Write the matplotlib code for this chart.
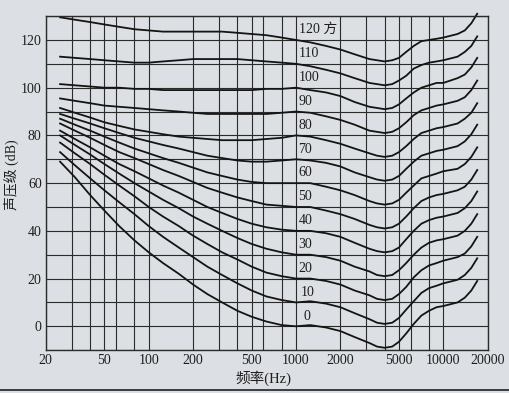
import matplotlib.pyplot as plt
import matplotlib.ticker as mticker
from matplotlib.lines import Line2D

plt.rcParams['font.family'] = ['Liberation Serif', 'Noto Sans CJK SC']

freqs = [25, 31.5, 40, 50, 63, 80, 100, 125, 160, 200, 250, 315, 400, 500, 630, 800,
         1000, 1250, 1600, 2000, 2500, 3150, 3550, 4000, 4500, 5000, 5600, 6300, 7100,
         8000, 9000, 10000, 12500, 14000, 15500, 17000]

# sound pressure level (dB) of each equal-loudness contour
spl_0 = [69, 62.5, 55, 48.5, 42, 36, 31, 26.5, 22, 17.5, 13.5, 10, 6.5, 4, 2, 0.5,
         0, 0.5, -0.5, -2, -4.5, -7, -8.5, -9, -8.5, -6.5, -3, 1, 4.5,
         6.5, 8, 8.5, 10, 12, 15, 19]
spl_10 = [73, 67.5, 62, 57, 52, 47, 42, 37.5, 33, 29, 25, 21.5, 18, 15, 12.5, 11,
          10, 10.5, 9.5, 8, 5.5, 3, 1.5, 1, 1.5, 3.5, 7, 10.5, 14,
          16, 17, 18, 19.5, 21.5, 24.5, 28.5]
spl_20 = [77, 72.5, 68, 63.5, 59, 54.5, 50, 46, 42, 38, 34.5, 31, 28, 25, 22.5, 21,
          20, 20, 19, 17.5, 15, 13, 11.5, 11, 11.5, 13.5, 16.5, 20.5, 23.5,
          25.5, 26.5, 27.5, 29, 30.5, 33.5, 37.5]
spl_30 = [80, 76, 72, 68, 64, 60, 56.5, 53, 49.5, 46, 43, 40, 37, 34.5, 32.5, 31,
          30, 30, 29, 27.5, 25, 23, 21.5, 21, 21.5, 23.5, 26.5, 30, 33,
          35, 36, 36.5, 38, 40, 43, 47]
spl_40 = [82, 78.5, 75, 71.5, 68, 65, 62, 59, 56, 53, 50, 47.5, 45, 43, 41.5, 40.5,
          40, 40, 39, 37.5, 35, 32.5, 31.5, 31, 31.5, 33, 36.5, 40, 43,
          44.5, 45.5, 46, 47.5, 49.5, 52.5, 56.5]
spl_50 = [85, 82, 79, 76, 73, 70.5, 68, 65.5, 63, 60.5, 58, 56, 54, 52.5, 51, 50.5,
          50, 50, 48.5, 47, 45, 42.5, 41.5, 41, 41.5, 43, 46, 49.5, 52.5,
          54, 55, 55.5, 57, 58.5, 61.5, 65.5]
spl_60 = [87, 84.5, 82, 79.5, 77, 74.5, 72.5, 70.5, 68.5, 66.5, 64.5, 63, 61.5, 60.5, 60, 60,
          60, 60, 58.5, 57, 55, 52.5, 51.5, 51, 51.5, 53, 56, 59, 62,
          63, 64, 65, 66, 68, 71, 75]
spl_70 = [89, 87, 85, 83, 81, 79, 77.5, 76, 74.5, 73, 71.5, 70.5, 69.5, 69, 69, 69.5,
          70, 69.5, 68.5, 67, 64.5, 62.5, 61.5, 61, 61.5, 63, 66, 69, 71.5,
          72.5, 73.5, 74, 75.5, 77.5, 80.5, 84.5]
spl_80 = [91.5, 89.5, 87.5, 85.5, 84, 82.5, 81.5, 80.5, 79.5, 79, 78.5, 78, 78, 78, 78.5, 79,
          80, 79.5, 78, 76.5, 74.5, 72.5, 71.5, 71, 71.5, 73, 75.5, 78.5, 81,
          82, 83, 83.5, 85, 87, 89.5, 93.5]
spl_90 = [95.5, 94.5, 93.5, 92.5, 92, 91.5, 91, 90.5, 90, 89.5, 89, 89, 89, 89, 89, 89.5,
          90, 89.5, 88, 86.5, 84.5, 82, 81.5, 81, 81.5, 83, 85.5, 88.5, 90.5,
          91.5, 92.5, 93, 94.5, 96, 99, 103]
spl_100 = [101.5, 101, 100.5, 100, 100, 99.5, 99.5, 99, 99, 99, 99, 99, 99, 99, 99.5, 99.5,
           100, 99, 98, 96.5, 94, 92, 91.5, 91, 91.5, 93, 95.5, 98, 100,
           101, 102, 102, 104, 105.5, 108.5, 112.5]
spl_110 = [113, 112.5, 112, 111.5, 111, 110.5, 110.5, 111, 111.5, 112, 112, 112, 112, 111.5, 111, 110.5,
           110, 109, 107.5, 106, 104, 102, 101.5, 101, 101.5, 103, 105, 108, 109.5,
           110.5, 111, 111.5, 113, 115, 117.5, 121.5]
spl_120 = [129.5, 128.5, 127.5, 126.5, 125.5, 124.5, 124, 123.5, 123.5, 123.5, 123.5, 123.5, 123, 122.5, 122, 121,
           120, 119, 117.5, 116, 114, 112, 111.5, 111, 111.5, 112.5, 115, 117.5, 119.5,
           120, 120.5, 121, 122.5, 124, 127, 131]

phons = [0, 10, 20, 30, 40, 50, 60, 70, 80, 90, 100, 110, 120]
curves = [spl_0, spl_10, spl_20, spl_30, spl_40, spl_50, spl_60,
          spl_70, spl_80, spl_90, spl_100, spl_110, spl_120]
curve_labels = ['0', '10', '20', '30', '40', '50', '60', '70', '80', '90', '100', '110', '120 方']

xticks = [20, 50, 100, 200, 500, 1000, 2000, 5000, 10000, 20000]
xtick_labels = ['20', '50', '100', '200', '500', '1000', '2000', '5000', '10000', '20000']
xgrid = [30, 40, 60, 80, 300, 400, 600, 800, 3000, 4000, 6000, 8000]
yticks = [0, 20, 40, 60, 80, 100, 120]

bg = '#dcdfe3'
ink = '#2b2b2b'

fig = plt.figure(figsize=(5.09, 3.93), dpi=100)
fig.patch.set_facecolor(bg)
ax = fig.add_axes([0.090, 0.109, 0.868, 0.850])
ax.set_facecolor(bg)

ax.set_xscale('log')
ax.set_xlim(20, 20000)
ax.set_ylim(-10, 130)

ax.xaxis.set_major_locator(mticker.FixedLocator(xticks))
ax.xaxis.set_major_formatter(mticker.FixedFormatter(xtick_labels))
ax.xaxis.set_minor_locator(mticker.FixedLocator(xgrid))
ax.xaxis.set_minor_formatter(mticker.NullFormatter())
ax.yaxis.set_major_locator(mticker.FixedLocator(yticks))
ax.yaxis.set_minor_locator(mticker.MultipleLocator(10))

ax.grid(which='both', color=ink, lw=0.8)
ax.set_axisbelow(True)
ax.tick_params(which='both', length=0, labelsize=10, pad=3, colors='#1e1e1e')
for s in ax.spines.values():
  s.set_color(ink)
  s.set_linewidth(1.0)

for phon, spl, lab in zip(phons, curves, curve_labels):
  ax.plot(freqs, spl, color='#141414', lw=1.3, clip_on=False, solid_joinstyle='round')
  if phon == 0:
    lx = 1120
  elif phon == 10:
    lx = 1070
  else:
    lx = 1040
  ax.text(lx, phon + 4.3, lab, fontsize=10, ha='left', va='center', color='#1e1e1e')

fig.text(0.022, 0.555, '声压级 (dB)', rotation=90, ha='center', va='center', fontsize=10, color='#1e1e1e')
fig.text(0.517, 0.038, '频率(Hz)', ha='center', va='center', fontsize=10.5, color='#1e1e1e')
fig.add_artist(Line2D([0, 1], [0.008, 0.008], color='#222222', lw=1.2))

fig.savefig('out.png', dpi=100, facecolor=bg)
